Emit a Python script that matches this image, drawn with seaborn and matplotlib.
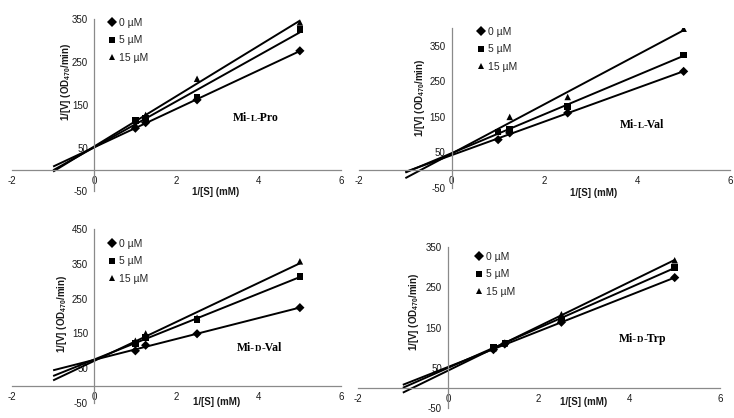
import numpy as np
import pandas as pd
import matplotlib
matplotlib.use("Agg")
import matplotlib.pyplot as plt
import seaborn as sns

# ---------------- data ----------------
inv_s = [1.0, 1.25, 2.5, 5.0]           # 1/[S] (mM)
concs = ["0 µM", "5 µM", "15 µM"]
markers = {"0 µM": "D", "5 µM": "s", "15 µM": "^"}

pro_0 = [96, 109, 162, 276]
pro_5 = [114, 120, 169, 325]
pro_15 = [105, 127, 211, 342]

lval_0 = [86, 105, 161, 278]
lval_5 = [107, 116, 179, 324]
lval_15 = [110, 150, 206, 398]

dval_0 = [100, 116, 149, 224]
dval_5 = [121, 138, 190, 313]
dval_15 = [129, 150, 195, 357]

trp_0 = [95, 109, 163, 274]
trp_5 = [101, 112, 171, 299]
trp_15 = [98, 110, 183, 317]

x_ticks = [-2, 0, 2, 4, 6]
y_ticks_350 = [-50, 50, 150, 250, 350]
y_ticks_450 = [-50, 50, 150, 250, 350, 450]
fit_range = [-1, 5]

# (prefix, small-cap letter, suffix)
names = [("Mi-", "L", "-Pro"), ("Mi-", "L", "-Val"), ("Mi-", "D", "-Val"), ("Mi-", "D", "-Trp")]
series = [(pro_0, pro_5, pro_15), (lval_0, lval_5, lval_15),
          (dval_0, dval_5, dval_15), (trp_0, trp_5, trp_15)]

# ---------------- style ----------------
sns.set_theme(style="white")
plt.rcParams["font.family"] = ["Liberation Sans", "DejaVu Sans"]
plt.rcParams["mathtext.fontset"] = "custom"
plt.rcParams["mathtext.rm"] = "Liberation Sans"
plt.rcParams["mathtext.bf"] = "Liberation Sans:bold"
plt.rcParams["axes.unicode_minus"] = False

W, H = 734, 418
fig = plt.figure(figsize=(W / 100, H / 100), dpi=100)


def px(x, y):
    return x / W, 1 - y / H


def add_axes(x0, x1, ytop, ybot):
    return fig.add_axes([x0 / W, 1 - ybot / H, (x1 - x0) / W, (ybot - ytop) / H])


# layout per panel: axes box, ylim, yticks, legend anchor, name pos, ylabel pos, xlabel pos
layout = [
    dict(box=(12, 341, 19, 191), ylim=(-50, 350), yt=y_ticks_350, leg=(109, 18),
         name=(233, 121), ylab=(66, 82), xlab=(216, 192)),
    dict(box=(359, 730, 28, 188), ylim=(-50, 400), yt=y_ticks_350, leg=(478, 27),
         name=(620, 128), ylab=(420, 98), xlab=(594, 193)),
    dict(box=(12, 341, 229, 403), ylim=(-50, 450), yt=y_ticks_450, leg=(109, 239),
         name=(237, 351), ylab=(62, 314), xlab=(217, 402)),
    dict(box=(357.5, 720, 247, 408), ylim=(-50, 350), yt=y_ticks_350, leg=(476, 252),
         name=(619, 342), ylab=(414, 312), xlab=(584, 402)),
]

axis_col = "#8a8a8a"
name_texts = []

for (vals, lay, nm) in zip(series, layout, names):
    ax = add_axes(*lay["box"])
    rows = []
    for c, v in zip(concs, vals):
        for xx, yy in zip(inv_s, v):
            rows.append({"inv_s": xx, "inv_v": yy, "conc": c})
    df = pd.DataFrame(rows)

    # trendlines (least squares), extended back to 1/[S] = -1
    for c, v in zip(concs, vals):
        k, b = np.polyfit(inv_s, v, 1)
        xs = np.array(fit_range, dtype=float)
        ax.plot(xs, k * xs + b, color="black", lw=1.4, zorder=2, solid_capstyle="butt")

    sns.scatterplot(data=df, x="inv_s", y="inv_v", style="conc", style_order=concs,
                    markers=markers, color="black", s=22, linewidth=0, ax=ax,
                    legend=True, zorder=3)

    ax.set_xlim(-2, 6)
    ax.set_ylim(*lay["ylim"])
    ax.set_xticks(x_ticks)
    ax.set_yticks(lay["yt"])
    ax.set_xlabel("")
    ax.set_ylabel("")
    for s in ["top", "right"]:
        ax.spines[s].set_visible(False)
    ax.spines["left"].set_position(("data", 0))
    ax.spines["bottom"].set_position(("data", 0))
    for s in ["left", "bottom"]:
        ax.spines[s].set_color(axis_col)
        ax.spines[s].set_linewidth(0.9)
    ax.tick_params(axis="both", colors=axis_col, labelcolor="#1a1a1a", labelsize=7,
                   length=3, width=0.9, direction="out", pad=1.5)
    ax.patch.set_alpha(0)

    handles, labels = ax.get_legend_handles_labels()
    ax.legend(handles, labels, loc="upper left",
              bbox_to_anchor=px(*lay["leg"]), bbox_transform=fig.transFigure,
              frameon=False, fontsize=7.5, handlelength=0.6, handletextpad=0.35,
              labelspacing=0.7, borderaxespad=0, borderpad=0)

    fig.text(*px(*lay["ylab"]), "1/[V] (OD$_{\\mathbf{470}}$/min)", rotation=90,
             ha="center", va="center", fontsize=7, fontweight="bold", color="#1a1a1a")
    fig.text(*px(*lay["xlab"]), "1/[S] (mM)", ha="center", va="center",
             fontsize=7, fontweight="bold", color="#1a1a1a")

    name_texts.append((lay["name"], nm))

# panel names with a small-capital stereo descriptor
fig.canvas.draw()
renderer = fig.canvas.get_renderer()
for (x0, y0), (pre, mid, suf) in name_texts:
    xcur = x0
    for part, size in ((pre, 8.5), (mid, 6.5), (suf, 8.5)):
        t = fig.text(*px(xcur, y0), part, ha="left", va="baseline", fontsize=size,
                     fontweight="bold", family=["Liberation Serif", "DejaVu Serif"],
                     color="black")
        bb = t.get_window_extent(renderer=renderer)
        xcur += bb.width

fig.savefig("out.png", dpi=100)
